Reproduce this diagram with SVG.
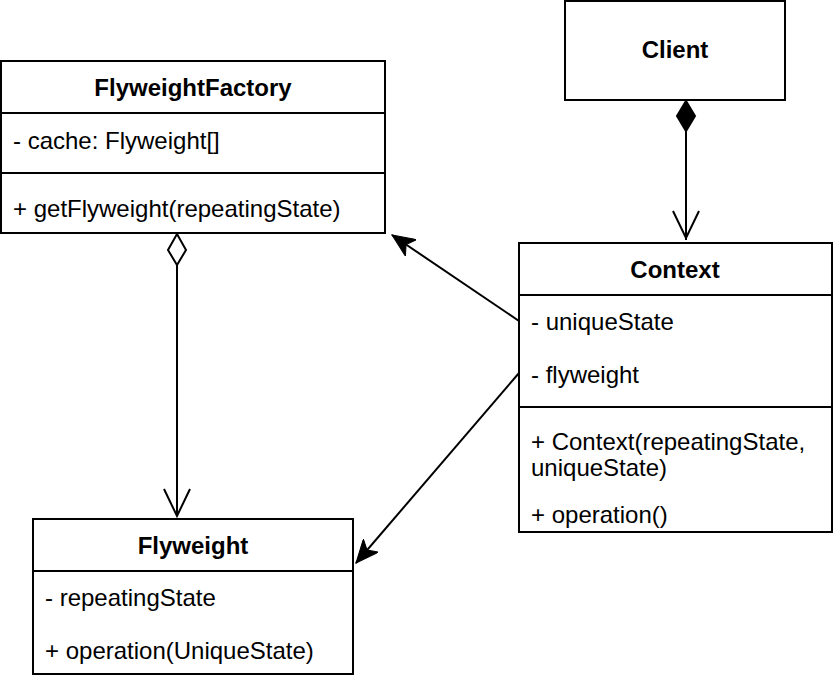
<svg xmlns="http://www.w3.org/2000/svg" width="834" height="682" viewBox="0 0 834 682">
<style>
  .box { fill: #ffffff; stroke: #000000; stroke-width: 2; }
  .div { stroke: #000000; stroke-width: 2; }
  .t { font-family: "Liberation Sans", Arial, sans-serif; font-size: 24px; fill: #000000; }
  .title { font-weight: bold; text-anchor: middle; }
  .edge { fill: none; stroke: #000000; stroke-width: 2; }
</style>
<defs>
  <marker id="block" viewBox="0 0 24 20" refX="23" refY="10" markerWidth="24" markerHeight="20" markerUnits="userSpaceOnUse" orient="auto">
    <path d="M0,0 L23,10 L0,20 L6,10 Z" fill="#000000" stroke="#000000" stroke-width="1"/>
  </marker>
</defs>

<g id="connectors">
  <!-- Client to Context: composition -->
  <line class="edge" x1="686" y1="130" x2="686" y2="240"/>
  <path d="M686,101 L695,116 L686,131 L677,116 Z" fill="#000000" stroke="#000000" stroke-width="2"/>
  <path class="edge" d="M673,211 L686,238 L699,211"/>
  <!-- FlyweightFactory to Flyweight: aggregation -->
  <line class="edge" x1="177" y1="264" x2="177" y2="516"/>
  <path d="M177,234 L186,250 L177,265 L168,250 Z" fill="#ffffff" stroke="#000000" stroke-width="2"/>
  <path class="edge" d="M164,489 L177,516 L190,489"/>
  <!-- Context to FlyweightFactory -->
  <line class="edge" x1="519" y1="321" x2="392" y2="235" marker-end="url(#block)"/>
  <!-- Context to Flyweight -->
  <line class="edge" x1="519" y1="373" x2="356" y2="563" marker-end="url(#block)"/>
</g>

<g id="FlyweightFactory">
  <rect class="box" x="1" y="61" width="384" height="172"/>
  <line class="div" x1="1" y1="113" x2="385" y2="113"/>
  <line class="div" x1="1" y1="173" x2="385" y2="173"/>
  <text class="t title" x="193" y="96">FlyweightFactory</text>
  <text class="t" x="13" y="149">- cache: Flyweight[]</text>
  <text class="t" x="13" y="217">+ getFlyweight(repeatingState)</text>
</g>

<g id="Client">
  <rect class="box" x="565" y="1" width="220" height="99"/>
  <text class="t title" x="675" y="58">Client</text>
</g>

<g id="Context">
  <rect class="box" x="519" y="243" width="313" height="289"/>
  <line class="div" x1="519" y1="295" x2="832" y2="295"/>
  <line class="div" x1="519" y1="407" x2="832" y2="407"/>
  <text class="t title" x="675" y="278">Context</text>
  <text class="t" x="531" y="330">- uniqueState</text>
  <text class="t" x="531" y="383">- flyweight</text>
  <text class="t" x="531" y="450">+ Context(repeatingState,</text>
  <text class="t" x="531" y="476">uniqueState)</text>
  <text class="t" x="531" y="523">+ operation()</text>
</g>

<g id="Flyweight">
  <rect class="box" x="33" y="519" width="320" height="155"/>
  <line class="div" x1="33" y1="571" x2="353" y2="571"/>
  <text class="t title" x="193" y="554">Flyweight</text>
  <text class="t" x="45" y="606">- repeatingState</text>
  <text class="t" x="45" y="659">+ operation(UniqueState)</text>
</g>
</svg>
